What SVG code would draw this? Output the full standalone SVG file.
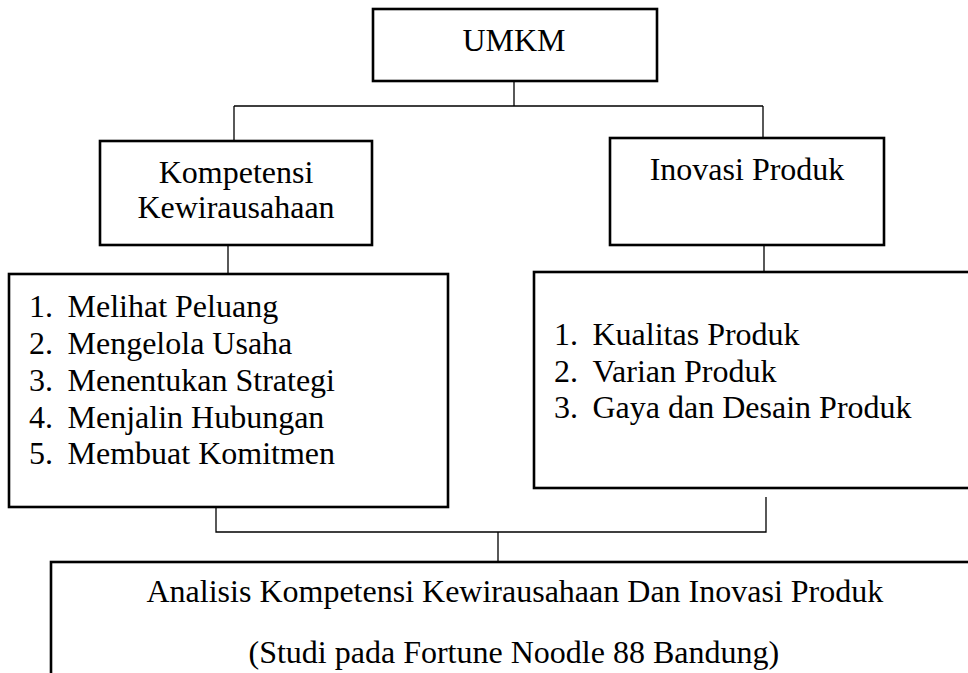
<svg xmlns="http://www.w3.org/2000/svg" width="968" height="673" viewBox="0 0 968 673">
<style>
.box{fill:#fff;stroke:#000;stroke-width:2.6}
.con{fill:none;stroke:#000;stroke-width:1.3}
text{font-family:"Liberation Serif","Times New Roman",serif;font-size:32px;fill:#000}
.c{text-anchor:middle}
</style>
<rect width="968" height="673" fill="#fff"/>
<g id="connectors">
<path class="con" d="M514 81V106M234 106H763M234 106V141M763 106V138"/>
<path class="con" d="M228 245V273M764 243V272"/>
<path class="con" d="M216 502V532H766V497M498 532V562"/>
</g>
<g id="umkm">
<rect class="box" x="373" y="9" width="284" height="72"/>
<text class="c" x="514" y="51">UMKM</text>
</g>
<g id="kompetensi">
<rect class="box" x="100" y="141" width="272" height="104"/>
<text class="c" x="236" y="183">Kompetensi</text>
<text class="c" x="236" y="218">Kewirausahaan</text>
</g>
<g id="inovasi">
<rect class="box" x="610" y="138" width="274" height="107"/>
<text class="c" x="747" y="180">Inovasi Produk</text>
</g>
<g id="indikator-kompetensi">
<rect class="box" x="9" y="274" width="439" height="233"/>
<text x="29" y="317">1.</text><text x="67.5" y="317">Melihat Peluang</text>
<text x="29" y="354">2.</text><text x="67.5" y="354">Mengelola Usaha</text>
<text x="29" y="391">3.</text><text x="67.5" y="391">Menentukan Strategi</text>
<text x="29" y="427.5">4.</text><text x="67.5" y="427.5">Menjalin Hubungan</text>
<text x="29" y="464">5.</text><text x="67.5" y="464">Membuat Komitmen</text>
</g>
<g id="indikator-inovasi">
<rect class="box" x="534" y="272" width="460" height="216"/>
<text x="554" y="345">1.</text><text x="592.5" y="345">Kualitas Produk</text>
<text x="554" y="381.5">2.</text><text x="592.5" y="381.5">Varian Produk</text>
<text x="554" y="417.5">3.</text><text x="592.5" y="417.5">Gaya dan Desain Produk</text>
</g>
<g id="analisis">
<rect class="box" x="51" y="562" width="960" height="150"/>
<text x="146.5" y="602">Analisis Kompetensi Kewirausahaan Dan Inovasi Produk</text>
<text x="248.5" y="662.5">(Studi pada Fortune Noodle 88 Bandung)</text>
</g>
</svg>
